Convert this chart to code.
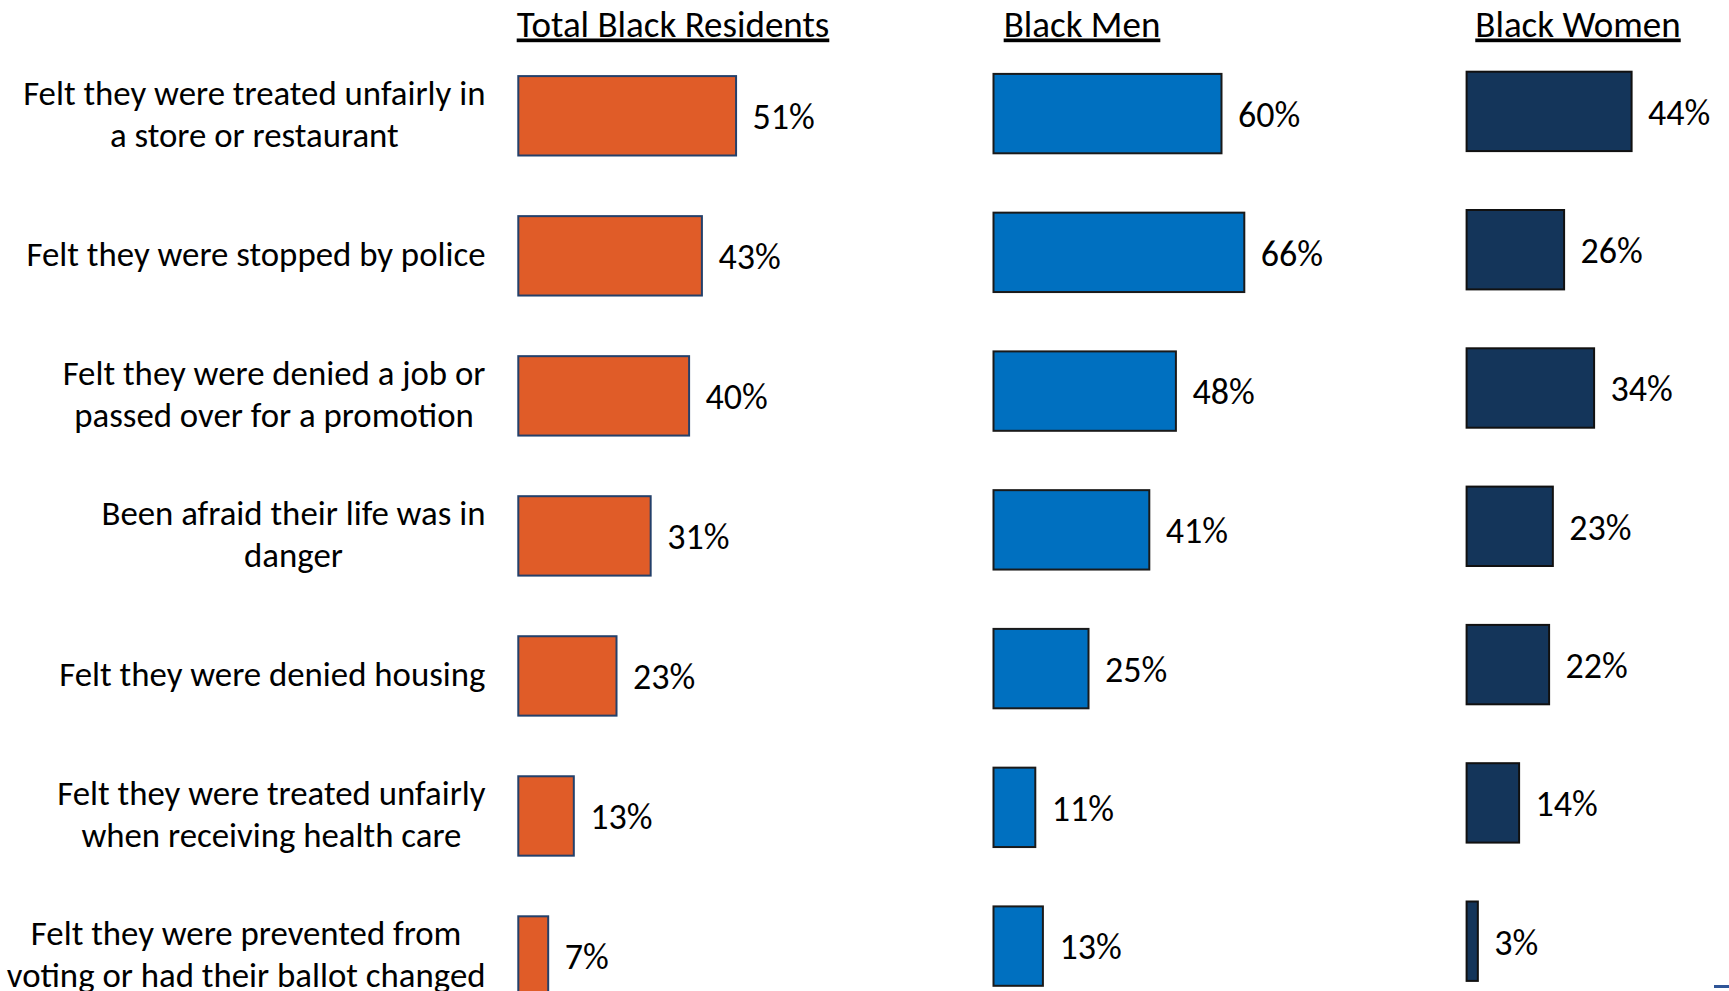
<!DOCTYPE html>
<html>
<head>
<meta charset="utf-8">
<script src="https://cdn.jsdelivr.net/npm/d3@7"></script>
<style>
  html, body { margin: 0; padding: 0; background: #fff; }
  svg { display: block; }
  text { font-family: Carlito, Calibri, Lato, "Open Sans", sans-serif; fill: #000; }
</style>
</head>
<body>
<div id="chart"></div>
<script>
const width = 1729,
    height = 991;

// data
const categoryLines = [
    ["Felt they were treated unfairly in", "a store or restaurant"],
    ["Felt they were stopped by police"],
    ["Felt they were denied a job or", "passed over for a promotion"],
    ["Been afraid their life was in", "danger"],
    ["Felt they were denied housing"],
    ["Felt they were treated unfairly", "when receiving health care"],
    ["Felt they were prevented from", "voting or had their ballot changed"]
];
const panelTitles = ["Total Black Residents", "Black Men", "Black Women"];
const totalValues = [51, 43, 40, 31, 23, 13, 7];
const menValues = [60, 66, 48, 41, 25, 11, 13];
const womenValues = [44, 26, 34, 23, 22, 14, 3];

const panels = [
    { title: panelTitles[0], values: totalValues, fill: "#E05C28", stroke: "#24406a",
      x0: 518.3, pxPerPct: 4.27, yFirst: 115.8, yLast: 956.0, titleX: 673 },
    { title: panelTitles[1], values: menValues, fill: "#0070C0", stroke: "#1a1a1a",
      x0: 993.5, pxPerPct: 3.80, yFirst: 113.6, yLast: 946.1, titleX: 1082 },
    { title: panelTitles[2], values: womenValues, fill: "#14355A", stroke: "#111111",
      x0: 1466.6, pxPerPct: 3.75, yFirst: 111.4, yLast: 941.2, titleX: 1578 }
];

const barHeight = 79.4,
    labelGap = 16.5,
    lineHeight = 42,
    labelRight = 485.5;

const svg = d3
    .select("#chart")
    .append("svg")
    .attr("width", width)
    .attr("height", height);

panels.forEach((p) => {
    const x = d3
        .scaleLinear()
        .domain([0, 100])
        .range([p.x0, p.x0 + 100 * p.pxPerPct]);
    const y = d3
        .scalePoint()
        .domain(d3.range(categoryLines.length))
        .range([p.yFirst, p.yLast]);
    p.y = y;

    const g = svg.append("g").attr("class", "panel");

    // title
    g.append("text")
        .attr("x", p.titleX)
        .attr("y", 36.5)
        .attr("text-anchor", "middle")
        .style("font-size", "37px")
        .style("text-decoration", "underline")
        .text(p.title);

    // bars
    g.selectAll("rect")
        .data(p.values)
        .enter()
        .append("rect")
        .attr("x", x(0))
        .attr("y", (d, i) => y(i) - barHeight / 2)
        .attr("width", (d) => x(d) - x(0))
        .attr("height", barHeight)
        .attr("fill", p.fill)
        .attr("stroke", p.stroke)
        .attr("stroke-width", 2);

    // values
    g.selectAll("text.value")
        .data(p.values)
        .enter()
        .append("text")
        .attr("class", "value")
        .attr("x", (d) => x(d) + labelGap)
        .attr("y", (d, i) => y(i))
        .attr("dy", "0.37em")
        .style("font-size", "36px")
        .text((d) => d + "%");
});

// category labels, centred block, right edge at labelRight
const yCat = panels[0].y;
const labels = svg.append("g").attr("class", "categories");
categoryLines.forEach((lines, i) => {
    const t = labels
        .append("text")
        .attr("text-anchor", "middle")
        .style("font-size", "34.8px");
    lines.forEach((line, j) => {
        t.append("tspan")
            .attr("y", yCat(i) + (j - (lines.length - 1) / 2) * lineHeight)
            .attr("dy", "0.3em")
            .text(line);
    });
    let maxW = 0;
    t.selectAll("tspan").each(function () {
        maxW = Math.max(maxW, this.getComputedTextLength());
    });
    t.selectAll("tspan").attr("x", labelRight - maxW / 2);
});

// small cut-off mark at the bottom right corner
svg.append("rect")
    .attr("x", 1714)
    .attr("y", 985)
    .attr("width", 15)
    .attr("height", 3)
    .attr("fill", "#2F5597");
</script>
</body>
</html>
